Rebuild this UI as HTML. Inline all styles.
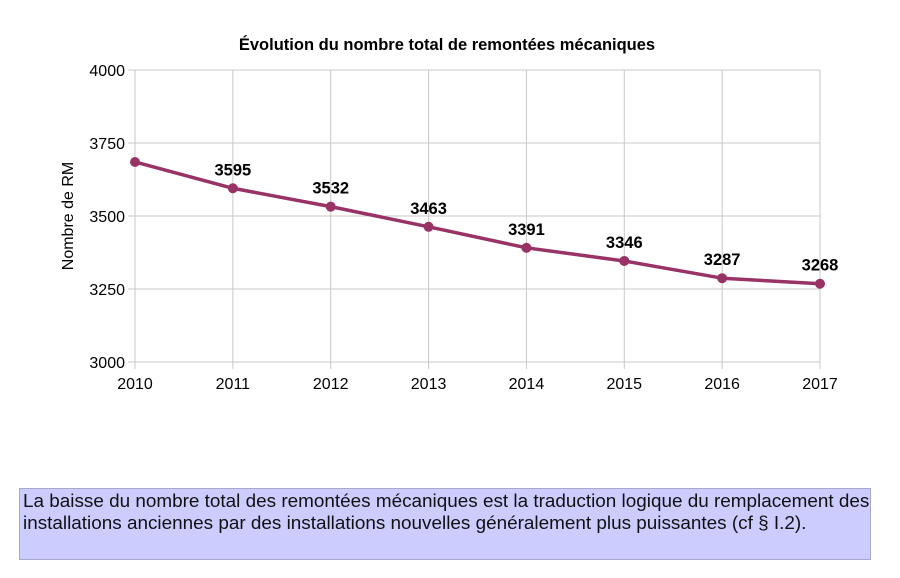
<!DOCTYPE html>
<html><head><meta charset="utf-8"><style>
body{margin:0;background:#fff;width:900px;height:578px;overflow:hidden;font-family:"Liberation Sans",sans-serif}
#note{position:absolute;left:19px;top:488px;width:852px;height:72px;background:#ccccff;border:1px solid #a8a8c8;box-sizing:border-box;padding:2px 0 0 3px;font-size:18.9px;line-height:22px;color:#111;white-space:nowrap}
</style></head><body>
<svg id="chart" width="900" height="480" style="position:absolute;left:0;top:0" font-family="Liberation Sans, sans-serif"></svg>
<div id="note">La baisse du nombre total des remontées mécaniques est la traduction logique du remplacement des<br>installations anciennes par des installations nouvelles généralement plus puissantes (cf § I.2).</div>
<script>
const years=["2010","2011","2012","2013","2014","2015","2016","2017"];
const values=[3685,3595,3532,3463,3391,3346,3287,3268];
const labels=["","3595","3532","3463","3391","3346","3287","3268"];
const yTicks=[3000,3250,3500,3750,4000];
const svg=document.getElementById('chart');
const NS='http://www.w3.org/2000/svg';
const x0=135,x1=820,yTop=70,yBot=362,yMin=3000,yMax=4000;
const xs=i=>x0+i*(x1-x0)/(years.length-1);
const ys=v=>yBot-(v-yMin)/(yMax-yMin)*(yBot-yTop);
function mk(t,a,txt){const e=document.createElementNS(NS,t);for(const k in a)e.setAttribute(k,a[k]);if(txt!==undefined)e.textContent=txt;svg.appendChild(e);return e;}
let e=mk('text',{x:447,y:50,'text-anchor':'middle','font-size':16.5,'font-weight':'bold'},'Évolution du nombre total de remontées mécaniques');


yTicks.forEach(v=>{
 let g=mk('line',{x1:x0-7,x2:x1,y1:ys(v),y2:ys(v),stroke:'#c8c8c8','stroke-width':1});
 
 
 let t=mk('text',{x:x0-10,y:ys(v)+6,'text-anchor':'end','font-size':16},String(v));
 
 
});
years.forEach((y,i)=>{
 let g=mk('line',{x1:xs(i),x2:xs(i),y1:yTop,y2:yBot+7,stroke:'#c8c8c8','stroke-width':1});
 
 
 let t=mk('text',{x:xs(i),y:389,'text-anchor':'middle','font-size':16},y);
 
 
});
e=mk('text',{transform:'translate(73,216) rotate(-90)','text-anchor':'middle','font-size':16},'Nombre de RM');


e=mk('polyline',{points:values.map((v,i)=>xs(i)+','+ys(v)).join(' '),fill:'none',stroke:'#993366','stroke-width':3.5,'stroke-linejoin':'round'});


values.forEach((v,i)=>{
 let c=mk('circle',{cx:xs(i),cy:ys(v),r:5,fill:'#993366'});
 
 
 if(labels[i]){
  let t=mk('text',{x:xs(i),y:ys(v)-13,'text-anchor':'middle','font-size':16.5,'font-weight':'bold'},labels[i]);
  
  
 }
});
</script>
</body></html>
